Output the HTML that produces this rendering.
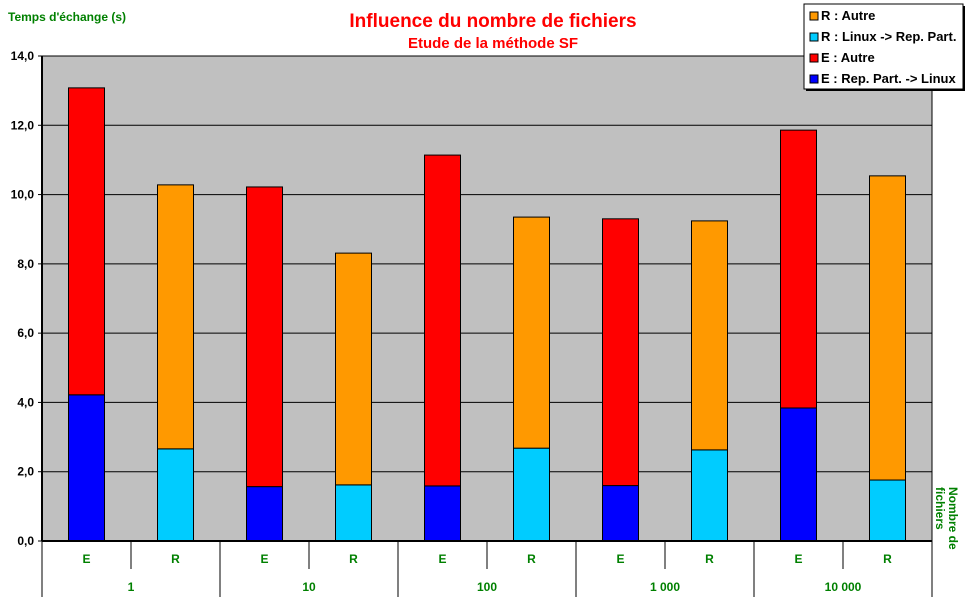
<!DOCTYPE html>
<html><head><meta charset="utf-8"><style>
body{margin:0;background:#fff;}
svg{display:block;font-family:"Liberation Sans",Arial,sans-serif;}
</style></head><body>
<svg id="c" width="970" height="604" viewBox="0 0 970 604">
<rect x="0" y="0" width="970" height="604" fill="#fff"/>
<text x="493" y="27" text-anchor="middle" font-size="19" font-weight="bold" fill="#ff0000">Influence du nombre de fichiers</text>
<text x="493" y="48" text-anchor="middle" font-size="15" font-weight="bold" fill="#ff0000">Etude de la méthode SF</text>
<text x="8" y="21" font-size="12" font-weight="bold" fill="#008000">Temps d'échange (s)</text>
<rect x="42" y="56" width="890" height="485" fill="#c0c0c0"/>
<g id="grid"></g><g id="bars"></g><g id="axes"></g>
<g transform="translate(947,487) rotate(90)">
<text x="0" y="-2" font-size="12" font-weight="bold" fill="#008000">Nombre de</text>
<text x="0" y="11" font-size="12" font-weight="bold" fill="#008000">fichiers</text>
</g>
<g>
<rect x="806" y="6" width="159" height="85" fill="#000"/>
<rect x="804" y="4" width="159" height="85" fill="#fff" stroke="#000" stroke-width="1"/>
<g><rect x="810" y="12" width="8" height="8" fill="#ff9900" stroke="#000"/><text x="821" y="20" font-size="13" font-weight="bold">R : Autre</text></g>
<g><rect x="810" y="33" width="8" height="8" fill="#00ccff" stroke="#000"/><text x="821" y="41" font-size="13" font-weight="bold">R : Linux -&gt; Rep. Part.</text></g>
<g><rect x="810" y="54" width="8" height="8" fill="#ff0000" stroke="#000"/><text x="821" y="62" font-size="13" font-weight="bold">E : Autre</text></g>
<g><rect x="810" y="75" width="8" height="8" fill="#0000ff" stroke="#000"/><text x="821" y="83" font-size="13" font-weight="bold">E : Rep. Part. -&gt; Linux</text></g>
</g>
</svg>
<script>
const groups=["1","10","100","1 000","10 000"];
const subs=["E","R"];
const bottomVals=[4.22,2.66,1.57,1.62,1.59,2.68,1.6,2.63,3.84,1.76];
const totalVals=[13.08,10.28,10.22,8.31,11.14,9.35,9.3,9.24,11.86,10.54];
const yTicks=[0,2,4,6,8,10,12,14];
const NS="http://www.w3.org/2000/svg";
const X0=42,X1=932,Y0=541,Y1=56,YMAX=14;
const n=bottomVals.length,cw=(X1-X0)/n,bw=36;
const y=v=>Y0-(v/YMAX)*(Y0-Y1);
const xc=i=>X0+cw*(i+0.5);
function mk(tag,attrs,parent){const e=document.createElementNS(NS,tag);for(const k in attrs)e.setAttribute(k,attrs[k]);parent.appendChild(e);return e;}
const grid=document.getElementById('grid'),bars=document.getElementById('bars'),axes=document.getElementById('axes');
yTicks.forEach(t=>{
 if(t>0){const l=mk('line',{x1:X0,x2:X1,y1:y(t),y2:y(t),stroke:'#000','stroke-width':1},grid);
 
 }
 const tk=mk('line',{x1:X0-4,x2:X0,y1:y(t),y2:y(t),stroke:'#000'},axes);
 
 
 const tx=mk('text',{x:X0-8,y:y(t)+4,'text-anchor':'end','font-size':12,'font-weight':'bold'},axes);
 tx.textContent=t.toFixed(1).replace('.',',');
 
 
});
for(let i=0;i<n;i++){
 const isE=i%2===0;
 const b=mk('rect',{x:xc(i)-bw/2,y:y(bottomVals[i]),width:bw,height:Y0-y(bottomVals[i]),fill:isE?'#0000ff':'#00ccff',stroke:'#000','stroke-width':1},bars);
 
 
 const t=mk('rect',{x:xc(i)-bw/2,y:y(totalVals[i]),width:bw,height:y(bottomVals[i])-y(totalVals[i]),fill:isE?'#ff0000':'#ff9900',stroke:'#000','stroke-width':1},bars);
 
 
 const lb=mk('text',{x:xc(i),y:563,'text-anchor':'middle','font-size':12,'font-weight':'bold',fill:'#008000'},axes);
 lb.textContent=subs[i%2];
 
 
}
for(let i=0;i<=n;i++){
 const x=X0+cw*i;
 const l=mk('line',{x1:x,x2:x,y1:Y0,y2:(i%2===0)?597:569,stroke:'#000'},axes);
 
 
}
groups.forEach((g,j)=>{
 const t=mk('text',{x:X0+cw*(2*j+1),y:591,'text-anchor':'middle','font-size':12,'font-weight':'bold',fill:'#008000'},axes);
 t.textContent=g;
 
 
});
const ax=mk('line',{x1:X0,x2:X0,y1:Y1,y2:Y0,stroke:'#000','stroke-width':2},axes);


const bx=mk('line',{x1:X0,x2:X1,y1:Y0,y2:Y0,stroke:'#000','stroke-width':2},axes);


const rx=mk('line',{x1:X1,x2:X1,y1:Y1,y2:Y0,stroke:'#000','stroke-width':1},axes);


</script>
</body></html>
